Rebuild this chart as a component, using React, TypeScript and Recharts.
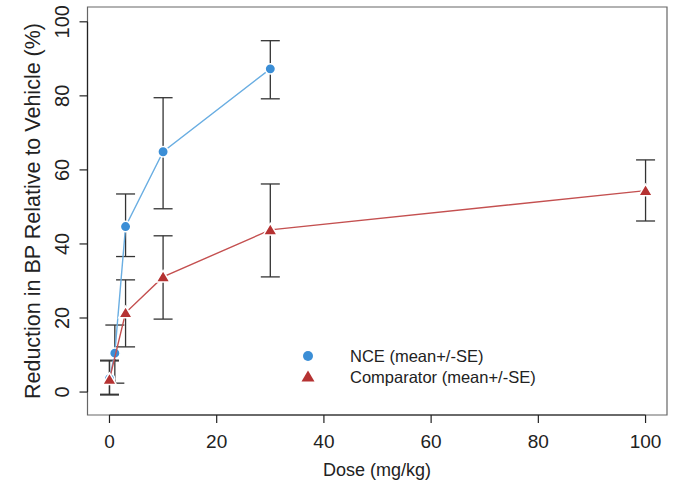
import React from 'react';
import {
  ScatterChart,
  Scatter,
  XAxis,
  YAxis,
  ErrorBar,
  ReferenceArea,
  ReferenceLine,
  Label,
} from 'recharts';

const FONT = '"Liberation Sans", Arial, Helvetica, sans-serif';

// NCE dose-response (mean, lower/upper SE bound)
const nceDose = [0, 1, 3, 10, 30];
const nceMean = [3.6, 10.5, 44.7, 64.9, 87.3];
const nceLow = [-0.8, 2.4, 36.6, 49.5, 79.2];
const nceHigh = [8.6, 18.1, 53.5, 79.5, 94.9];

// Comparator dose-response
const compDose = [0, 3, 10, 30, 100];
const compMean = [3.4, 21.4, 31.1, 43.8, 54.4];
const compLow = [-0.6, 12.2, 19.7, 31.1, 46.2];
const compHigh = [8.4, 30.3, 42.2, 56.2, 62.7];

const xTicks = [0, 20, 40, 60, 80, 100];
const yTicks = [0, 20, 40, 60, 80, 100];

const X_DOMAIN: [number, number] = [-4.1, 104];
const Y_DOMAIN: [number, number] = [-6.2, 104];

const NCE_COLOR = '#3b8ed6';
const NCE_LINE = '#6aaee2';
const COMP_COLOR = '#b53232';
const COMP_LINE = '#c45050';

const toRows = (dose: number[], mean: number[], low: number[], high: number[]) =>
  dose.map((d, i) => ({
    x: d,
    y: mean[i],
    err: [mean[i] - low[i], high[i] - mean[i]],
  }));

const nceData = toRows(nceDose, nceMean, nceLow, nceHigh);
const compData = toRows(compDose, compMean, compLow, compHigh);

const Dot = (props: any) => (
  <circle cx={props.cx} cy={props.cy} r={5.2} fill={NCE_COLOR} stroke="#fff" strokeWidth={1.5} />
);

const Tri = (props: any) => {
  const { cx, cy } = props;
  return (
    <polygon
      points={`${cx},${cy - 6.5} ${cx - 6.8},${cy + 5} ${cx + 6.8},${cy + 5}`}
      fill={COMP_COLOR}
      stroke="#fff"
      strokeWidth={1.5}
    />
  );
};

const Empty = () => <g />;

const YTick = (props: any) => {
  const { x, y, payload } = props;
  return (
    <text
      x={x - 8}
      y={y}
      transform={`rotate(-90, ${x - 8}, ${y})`}
      textAnchor="middle"
      fontSize={20}
      fill="#222"
      fontFamily={FONT}
    >
      {payload.value}
    </text>
  );
};

// legend sits inside the plot box, drawn over the chart
const LegendBox = () => (
  <svg width={260} height={50} style={{ position: 'absolute', left: 290, top: 340 }}>
    <circle cx={18} cy={16} r={5} fill={NCE_COLOR} />
    <text x={60} y={16} dominantBaseline="central" fontSize={16.5} fill="#222" fontFamily={FONT}>
      NCE (mean+/-SE)
    </text>
    <polygon points="18,30.5 11.5,41.5 24.5,41.5" fill={COMP_COLOR} />
    <text x={60} y={37} dominantBaseline="central" fontSize={16.5} fill="#222" fontFamily={FONT}>
      Comparator (mean+/-SE)
    </text>
  </svg>
);

export default function App() {
  return (
    <div style={{ position: 'absolute', left: 0, top: 0, width: 680, height: 490, background: '#fff' }}>
      <ScatterChart
        width={680}
        height={490}
        margin={{ top: 7, right: 13, bottom: 15, left: 27.5 }}
      >
        <XAxis
          type="number"
          dataKey="x"
          domain={X_DOMAIN}
          ticks={xTicks}
          allowDataOverflow
          axisLine={false}
          tickSize={8}
          tickMargin={12}
          tickLine={{ stroke: '#222', strokeWidth: 1.2 }}
          tick={{ fontSize: 19, fill: '#222', fontFamily: FONT }}
          height={60}
        >
          <Label
            content={() => (
              <text x={377} y={470} textAnchor="middle" dominantBaseline="central" fontSize={18} fill="#222" fontFamily={FONT}>
                Dose (mg/kg)
              </text>
            )}
          />
        </XAxis>
        <YAxis
          type="number"
          dataKey="y"
          domain={Y_DOMAIN}
          ticks={yTicks}
          allowDataOverflow
          axisLine={false}
          tickSize={8}
          tickLine={{ stroke: '#222', strokeWidth: 1.2 }}
          tick={<YTick />}
          width={60}
        >
          <Label
            content={() => (
              <text
                x={33}
                y={211}
                transform="rotate(-90, 33, 211)"
                textAnchor="middle"
                dominantBaseline="central"
                fontSize={21.5}
                fill="#222"
                fontFamily={FONT}
              >
                Reduction in BP Relative to Vehicle (%)
              </text>
            )}
          />
        </YAxis>

        <ReferenceArea
          x1={X_DOMAIN[0]}
          x2={X_DOMAIN[1]}
          y1={Y_DOMAIN[0]}
          y2={Y_DOMAIN[1]}
          fill="none"
          stroke="#666"
          strokeWidth={1.2}
        />
        <ReferenceLine
          segment={[{ x: 0, y: Y_DOMAIN[0] }, { x: 100, y: Y_DOMAIN[0] }]}
          stroke="#222"
          strokeWidth={1.2}
        />
        <ReferenceLine
          segment={[{ x: X_DOMAIN[0], y: 0 }, { x: X_DOMAIN[0], y: 100 }]}
          stroke="#222"
          strokeWidth={1.2}
        />

        {/* error bars first so markers sit on top */}
        <Scatter data={compData} shape={<Empty />} isAnimationActive={false}>
          <ErrorBar dataKey="err" direction="y" width={9.5} stroke="#333" strokeWidth={1.3} isAnimationActive={false} />
        </Scatter>
        <Scatter data={nceData} shape={<Empty />} isAnimationActive={false}>
          <ErrorBar dataKey="err" direction="y" width={9.5} stroke="#333" strokeWidth={1.3} isAnimationActive={false} />
        </Scatter>

        <Scatter
          name="NCE (mean+/-SE)"
          data={nceData}
          shape={<Dot />}
          line={{ stroke: NCE_LINE, strokeWidth: 1.4 }}
          fill={NCE_COLOR}
          isAnimationActive={false}
        />
        <Scatter
          name="Comparator (mean+/-SE)"
          data={compData}
          shape={<Tri />}
          line={{ stroke: COMP_LINE, strokeWidth: 1.4 }}
          fill={COMP_COLOR}
          isAnimationActive={false}
        />
      </ScatterChart>
      <LegendBox />
    </div>
  );
}
